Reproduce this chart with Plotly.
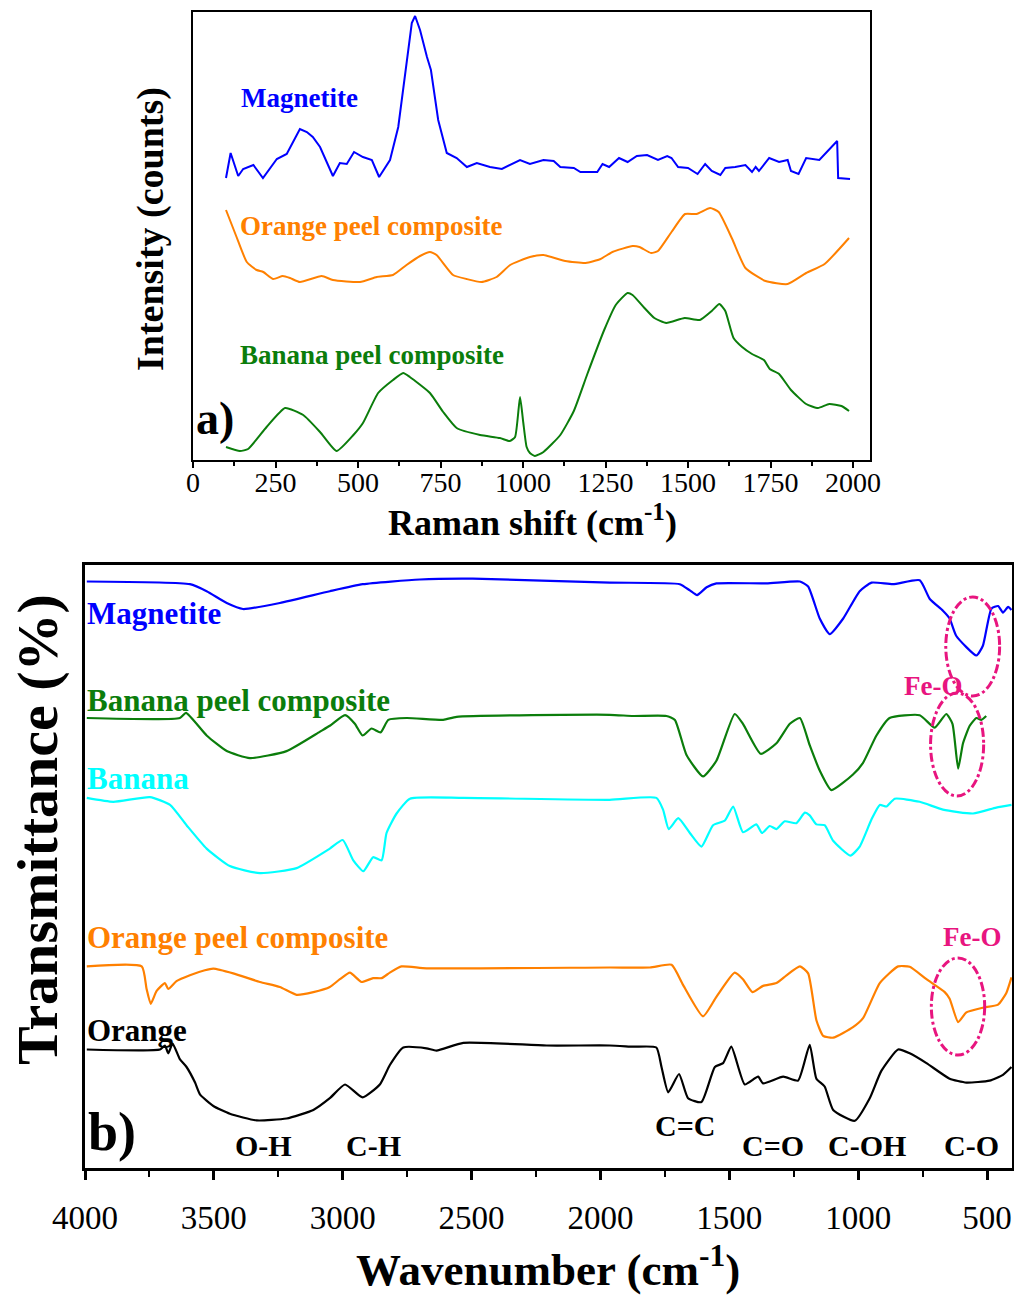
import plotly.graph_objects as go

# ---------------- Raman spectra (panel a) ----------------
raman_shift_magnetite = [100, 114, 137, 152, 183, 212, 254, 284, 324, 345, 363, 385, 424, 445, 466, 488, 515,
                         542, 564, 597, 622, 642, 663, 673, 688, 709, 721, 743, 769, 799, 830, 860, 900, 936,
                         991, 1021, 1062, 1093, 1113, 1154, 1174, 1225, 1241, 1261, 1291, 1317, 1345, 1376,
                         1409, 1437, 1450, 1470, 1500, 1529, 1552, 1572, 1598, 1613, 1643, 1674, 1694, 1705,
                         1715, 1746, 1776, 1802, 1812, 1835, 1858, 1898, 1919, 1952, 1955, 1991]
raman_magnetite = [282, 307, 284, 291, 295, 282, 301, 306, 331, 328, 323, 313, 284, 297, 296, 308, 303,
                   300, 283, 300, 333, 383, 437, 444, 430, 403, 390, 340, 307, 302, 293, 297, 293, 291,
                   300, 296, 300, 299, 293, 292, 288, 288, 296, 293, 302, 298, 304, 305,
                   300, 304, 302, 293, 292, 286, 296, 289, 285, 292, 293, 295, 288, 293,
                   289, 302, 298, 300, 289, 286, 302, 300, 307, 319, 282, 281]

raman_shift_orange = [100, 132, 163, 193, 213, 243, 272, 294, 324, 390, 424, 506, 557, 606, 647, 688, 718,
                      738, 788, 829, 874, 920, 961, 1021, 1062, 1128, 1190, 1235, 1271, 1332, 1353, 1388,
                      1409, 1450, 1491, 1526, 1567, 1593, 1634, 1674, 1735, 1802, 1858, 1914, 1988]
raman_orange = [250, 223, 198, 190, 188, 181, 184, 182, 178, 184, 180, 178, 183, 185, 195, 204, 208,
                205, 185, 181, 178, 183, 195, 203, 205, 199, 197, 201, 208, 214, 213, 207,
                209, 228, 246, 246, 252, 248, 221, 192, 179, 176, 187, 196, 222]

raman_shift_banana = [100, 142, 167, 223, 279, 334, 385, 435, 486, 515, 561, 606, 637, 657, 718, 758, 799,
                      870, 930, 960, 976, 991, 1001, 1011, 1021, 1036, 1062, 1113, 1154, 1195, 1246, 1281,
                      1317, 1332, 1368, 1398, 1434, 1490, 1536, 1572, 1595, 1613, 1638, 1664, 1694, 1730,
                      1748, 1776, 1812, 1858, 1894, 1928, 1965, 1988]
raman_banana = [13, 9, 11, 33, 52, 45, 28, 9, 25, 37, 67, 80, 87, 83, 67, 48, 32,
                25, 22, 19, 23, 63, 37, 13, 7, 4, 8, 25, 49, 86, 130, 155,
                167, 165, 152, 142, 137, 142, 140, 149, 156, 149, 122, 113, 106, 100,
                91, 86, 70, 56, 52, 56, 54, 49]

# ---------------- FTIR spectra (panel b), offset for display ----------------
wn_magnetite = [3993, 3593, 3528, 3450, 3387, 3244, 3050, 2922, 2701, 2495, 1963, 1692, 1653, 1625, 1588,
                1550, 1356, 1226, 1194, 1149, 1110, 1058, 994, 948, 865, 761, 722, 671, 645, 619, 541,
                516, 483, 457, 438, 418, 405]
t_magnetite = [586.5, 583.8, 576.8, 565.0, 559.0, 565.0, 576.8, 583.8, 588.5, 589.3, 585.4, 583.8, 577.6,
               572.9, 580.7, 584.6, 584.6, 586.5, 581.5, 549.5, 533.9, 549.5, 576.8, 585.4, 583.8, 587.7,
               569.0, 557.3, 549.5, 532.0, 512.5, 522.2, 559.3, 562.0, 555.4, 561.2, 558.0]

wn_banana_comp = [3993, 3632, 3608, 3528, 3450, 3360, 3218, 3088, 3050, 2991, 2953, 2923, 2888, 2853, 2823,
                  2752, 2610, 2558, 1964, 1873, 1744, 1711, 1666, 1602, 1550, 1479, 1447, 1378, 1317, 1265,
                  1226, 1188, 1149, 1104, 1020, 981, 929, 878, 761, 703, 658, 634, 612, 593, 567, 541, 522, 503]
t_banana_comp = [450.0, 450.0, 455.1, 432.5, 416.9, 409.9, 416.9, 436.4, 442.2, 452.8, 444.2, 432.5, 439.5,
                 435.6, 448.1, 450.0, 448.1, 451.2, 453.2, 452.0, 452.0, 448.1, 413.0, 391.6, 407.2, 454.0,
                 444.2, 414.2, 424.7, 444.2, 450.0, 422.8, 397.4, 377.9, 393.5, 405.2, 432.5, 450.0, 452.8,
                 440.3, 454.0, 444.2, 399.4, 424.7, 442.2, 450.0, 448.1, 452.0]

wn_banana = [3993, 3890, 3748, 3670, 3606, 3528, 3438, 3321, 3179, 3050, 3000, 2959, 2920, 2882, 2849, 2830,
             2791, 2739, 2532, 1964, 1783, 1757, 1735, 1698, 1653, 1608, 1563, 1517, 1485, 1447, 1395, 1373,
             1343, 1317, 1285, 1240, 1207, 1188, 1162, 1130, 1097, 1030, 994, 948, 916, 890, 858, 761, 671,
             554, 464, 405]
t_banana = [370.1, 366.2, 370.9, 363.1, 342.8, 319.4, 301.9, 294.8, 299.9, 319.4, 328.0, 307.7, 296.8, 310.8,
            307.7, 335.0, 354.5, 369.3, 370.1, 368.2, 370.1, 358.4, 338.9, 349.8, 335.0, 321.4, 342.8, 347.5,
            361.5, 335.8, 343.6, 335.0, 342.0, 338.9, 346.7, 344.8, 355.3, 352.6, 343.6, 342.8, 327.2, 312.4,
            321.4, 348.7, 363.1, 361.5, 369.3, 366.2, 358.4, 354.5, 360.4, 363.1]

wn_orange_comp = [3993, 3780, 3761, 3745, 3722, 3690, 3677, 3645, 3593, 3535, 3502, 3425, 3321, 3244, 3179,
                  3114, 3050, 3011, 2972, 2927, 2882, 2849, 2817, 2772, 2675, 1964, 1808, 1724, 1679, 1602,
                  1550, 1479, 1447, 1410, 1369, 1317, 1278, 1226, 1194, 1162, 1136, 1097, 1020, 981, 916,
                  845, 800, 735, 664, 645, 612, 580, 516, 457, 425, 405]
t_orange_comp = [201.6, 201.6, 179.0, 164.2, 177.1, 184.9, 179.0, 186.8, 192.7, 197.7, 199.3, 194.6, 186.0,
                 181.0, 173.2, 175.9, 181.0, 188.8, 195.4, 186.0, 189.9, 189.9, 195.4, 201.6, 199.7, 200.5,
                 200.5, 203.2, 182.9, 151.7, 171.2, 195.4, 188.8, 175.9, 182.1, 184.9, 192.7, 201.6, 194.6,
                 147.8, 132.2, 130.3, 140.8, 149.8, 184.9, 201.6, 201.2, 188.8, 175.9, 169.3, 145.9, 155.6,
                 160.3, 163.4, 175.1, 190.7]

wn_orange = [3993, 3709, 3690, 3677, 3660, 3632, 3606, 3573, 3554, 3502, 3438, 3334, 3218, 3114, 3050, 2991,
             2923, 2856, 2817, 2765, 2675, 2636, 2532, 2209, 1964, 1873, 1783, 1763, 1737, 1695, 1660, 1608,
             1556, 1524, 1492, 1440, 1388, 1369, 1291, 1233, 1188, 1162, 1130, 1097, 1013, 955, 910, 845,
             800, 735, 645, 580, 490, 438, 405]
t_orange = [118.5, 118.5, 122.5, 114.7, 124.4, 108.8, 101.0, 85.4, 73.7, 62.0, 54.2, 47.6, 49.5, 58.1, 69.8,
            83.5, 70.6, 83.5, 103.0, 120.5, 119.7, 117.4, 125.2, 122.5, 122.5, 121.3, 120.5, 101.0, 75.7,
            94.0, 69.8, 65.9, 101.0, 104.9, 121.3, 83.5, 91.3, 84.6, 91.3, 87.4, 123.2, 89.3, 81.5, 58.1,
            47.2, 69.8, 97.1, 118.5, 114.7, 104.9, 89.3, 85.4, 87.4, 93.2, 101.0]

BLUE = "#0000FF"
ORANGE = "#FF8000"
GREEN = "#0B7D0B"
CYAN = "#00FFFF"
BLACK = "#000000"
PINK = "#E8157F"
SERIF = "Liberation Serif"

W, H = 1014, 1296


def fx(x):
    return x / W


def fy(y):
    return 1 - y / H


fig = go.Figure()

raman = [
    (raman_shift_magnetite, raman_magnetite, BLUE, "linear"),
    (raman_shift_orange, raman_orange, ORANGE, "spline"),
    (raman_shift_banana, raman_banana, GREEN, "spline"),
]
for xs, ys, col, shape in raman:
    fig.add_trace(go.Scatter(x=xs, y=ys, xaxis="x", yaxis="y", mode="lines",
                             line=dict(color=col, width=2, shape=shape, smoothing=0.5),
                             showlegend=False, hoverinfo="skip"))

ftir = [
    (wn_magnetite, t_magnetite, BLUE),
    (wn_banana_comp, t_banana_comp, GREEN),
    (wn_banana, t_banana, CYAN),
    (wn_orange_comp, t_orange_comp, ORANGE),
    (wn_orange, t_orange, BLACK),
]
for xs, ys, col in ftir:
    fig.add_trace(go.Scatter(x=xs, y=ys, xaxis="x2", yaxis="y2", mode="lines",
                             line=dict(color=col, width=2.2, shape="spline", smoothing=0.5),
                             showlegend=False, hoverinfo="skip"))

# dotted ellipses marking the Fe-O bands
fe_o_regions = [
    (660, 451, 472, 571),
    (719, 513, 372, 475),
    (716, 509, 113, 210),
]
for x0, x1, y0, y1 in fe_o_regions:
    fig.add_shape(type="circle", xref="x2", yref="y2", x0=x0, x1=x1, y0=y0, y1=y1,
                  line=dict(color=PINK, width=3, dash="dashdot"))

annotations = []


def label(text, x, y, size, color=BLACK, bold=True, xanchor="left", angle=0):
    t = f"<b>{text}</b>" if bold else text
    annotations.append(dict(text=t, x=fx(x), y=fy(y), xref="paper", yref="paper",
                            xanchor=xanchor, yanchor="middle", showarrow=False, textangle=angle,
                            font=dict(family=SERIF, size=size, color=color)))


# panel a texts
label("Magnetite", 239, 98, 27, BLUE)
label("Orange peel composite", 238, 226, 27, ORANGE)
label("Banana peel composite", 238, 355, 27, GREEN)
label("a)", 194, 418, 46)
label("Intensity (counts)", 150, 229, 38, angle=-90, xanchor="center")
label("Raman shift (cm<sup>-1</sup>)", 532, 521, 36, xanchor="center")

# panel b texts
label("Magnetite", 85, 613, 31, BLUE)
label("Banana peel composite", 85, 700, 31, GREEN)
label("Banana", 85, 778, 31, CYAN)
label("Orange peel composite", 85, 937, 31, ORANGE)
label("Orange", 85, 1030, 31, BLACK)
label("Fe-O", 933, 686, 27, PINK, xanchor="center")
label("Fe-O", 972, 937, 27, PINK, xanchor="center")
label("b)", 86, 1132, 54)
for txt, x, y in [("O-H", 263, 1145), ("C-H", 373, 1145), ("C=C", 685, 1125),
                  ("C=O", 773, 1145), ("C-OH", 867, 1145), ("C-O", 971, 1145)]:
    label(txt, x, y, 30, xanchor="center")
label("Transmittance (%)", 37, 830, 58, angle=-90, xanchor="center")
label("Wavenumber (cm<sup>-1</sup>)", 548, 1266, 45, xanchor="center")

axis_common = dict(showgrid=False, zeroline=False, showline=True, linecolor="black", mirror=True,
                   automargin=False)

fig.update_layout(
    width=W, height=H,
    margin=dict(l=0, r=0, t=0, b=0, pad=0, autoexpand=False),
    paper_bgcolor="white", plot_bgcolor="white",
    showlegend=False,
    annotations=annotations,
    xaxis=dict(domain=[fx(193), fx(870)], anchor="y", range=[0, 2051.5],
               tick0=0, dtick=250, ticks="outside", ticklen=6, tickwidth=2, tickcolor="black",
               ticklabelstandoff=-10,
               tickfont=dict(family=SERIF, size=28, color="black"),
               minor=dict(ticks="outside", tick0=0, dtick=125, ticklen=4, tickwidth=1.5, tickcolor="black"),
               linewidth=2, **axis_common),
    yaxis=dict(domain=[fy(460), fy(12)], anchor="x", range=[0, 448],
               showticklabels=False, ticks="", linewidth=2, **axis_common),
    xaxis2=dict(domain=[fx(85), fx(1012)], anchor="y2", range=[4000, 403],
                tick0=0, dtick=500, ticks="outside", ticklen=9, tickwidth=2.5, tickcolor="black",
                ticklabelstandoff=10,
                tickfont=dict(family=SERIF, size=33, color="black"),
                minor=dict(ticks="outside", tick0=0, dtick=250, ticklen=6, tickwidth=2, tickcolor="black"),
                linewidth=2.5, **axis_common),
    yaxis2=dict(domain=[fy(1168), fy(565)], anchor="x2", range=[0, 603],
                showticklabels=False, ticks="", linewidth=2.5, **axis_common),
)

fig.write_html("out.html")
